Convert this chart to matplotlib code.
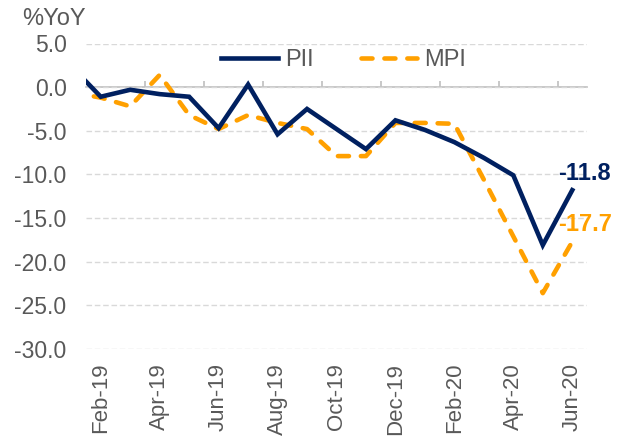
import matplotlib
matplotlib.use("Agg")
import matplotlib.pyplot as plt
import numpy as np

months = ["Jan-19", "Feb-19", "Mar-19", "Apr-19", "May-19", "Jun-19", "Jul-19", "Aug-19",
          "Sep-19", "Oct-19", "Nov-19", "Dec-19", "Jan-20", "Feb-20", "Mar-20", "Apr-20",
          "May-20", "Jun-20"]
pii = [2.4, -1.1, -0.3, -0.8, -1.1, -4.7, 0.3, -5.4, -2.5, -4.8, -7.1, -3.8, -4.9, -6.3,
       -8.1, -10.1, -18.1, -11.8]
mpi = [-0.6, -1.2, -2.2, 1.4, -3.2, -4.8, -3.2, -4.1, -4.8, -7.9, -7.9, -4.1, -4.1, -4.2,
       -10.6, -17.1, -23.6, -17.7]
yticks = [5, 0, -5, -10, -15, -20, -25, -30]

NAVY = "#002060"
ORANGE = "#FFA000"
GRAY = "#595959"

plt.rcParams["font.family"] = ["Liberation Sans", "DejaVu Sans"]
plt.rcParams["axes.unicode_minus"] = False

fig = plt.figure(figsize=(6.3, 4.41), dpi=100)
ax = fig.add_axes([86 / 630, 1 - 349 / 441, (587 - 86) / 630, (349 - 43.5) / 441])

x = np.arange(len(months))
ax.plot(x, pii, color=NAVY, lw=3.3, solid_joinstyle="miter", label="PII", zorder=3)
ax.plot(x, mpi, color=ORANGE, lw=3.3, linestyle=(0, (2.4, 2.6)), dash_capstyle="round",
        label="MPI", zorder=2)

ax.set_xlim(0.5, len(months) - 0.5)
ax.set_ylim(-30, 5)

# gridlines
ax.set_yticks(yticks)
ax.set_yticklabels([f"{v:.1f}" for v in yticks], fontsize=16.5, color=GRAY)
ax.tick_params(axis="y", length=0, pad=14)
ax.yaxis.grid(True, color="#D9D9D9", linestyle=(0, (4, 2)), lw=1)
ax.set_axisbelow(True)
for s in ax.spines.values():
    s.set_visible(False)

# category labels at bottom
lab_idx = x[1::2]
ax.set_xticks(lab_idx)
ax.set_xticklabels([months[i] for i in lab_idx], rotation=90, fontsize=16, color=GRAY,
                   ha="center", va="top")
ax.tick_params(axis="x", length=0, pad=10)

# horizontal axis line at zero with tick marks between categories
sec = ax.secondary_xaxis(0, transform=ax.transData)
sec.spines["bottom"].set_color("#BFBFBF")
sec.spines["bottom"].set_linewidth(1.2)
sec.set_xticks(np.arange(2.5, len(months) - 0.5, 2))
sec.set_xticklabels([])
sec.tick_params(axis="x", direction="in", length=4, width=1.2, color="#BFBFBF")

# data labels
ax.annotate(f"{pii[-1]:.1f}", xy=(x[-1], pii[-1]), xytext=(-10, 12), textcoords="offset points",
            ha="left", va="center", fontsize=17, fontweight="bold", color=NAVY)
ax.annotate(f"{mpi[-1]:.1f}", xy=(x[-1], mpi[-1]), xytext=(-10, 12), textcoords="offset points",
            ha="left", va="center", fontsize=17, fontweight="bold", color=ORANGE)

leg = ax.legend(loc="center", bbox_to_anchor=(0.514, 0.946), ncol=2, frameon=False,
                fontsize=17, handlelength=2.4, handletextpad=0.3, columnspacing=2.0,
                labelcolor=GRAY)

fig.text(22 / 630, 1 - 25 / 441, "%YoY", fontsize=17, color=GRAY, ha="left", va="baseline")

fig.savefig("out.png", dpi=100)
